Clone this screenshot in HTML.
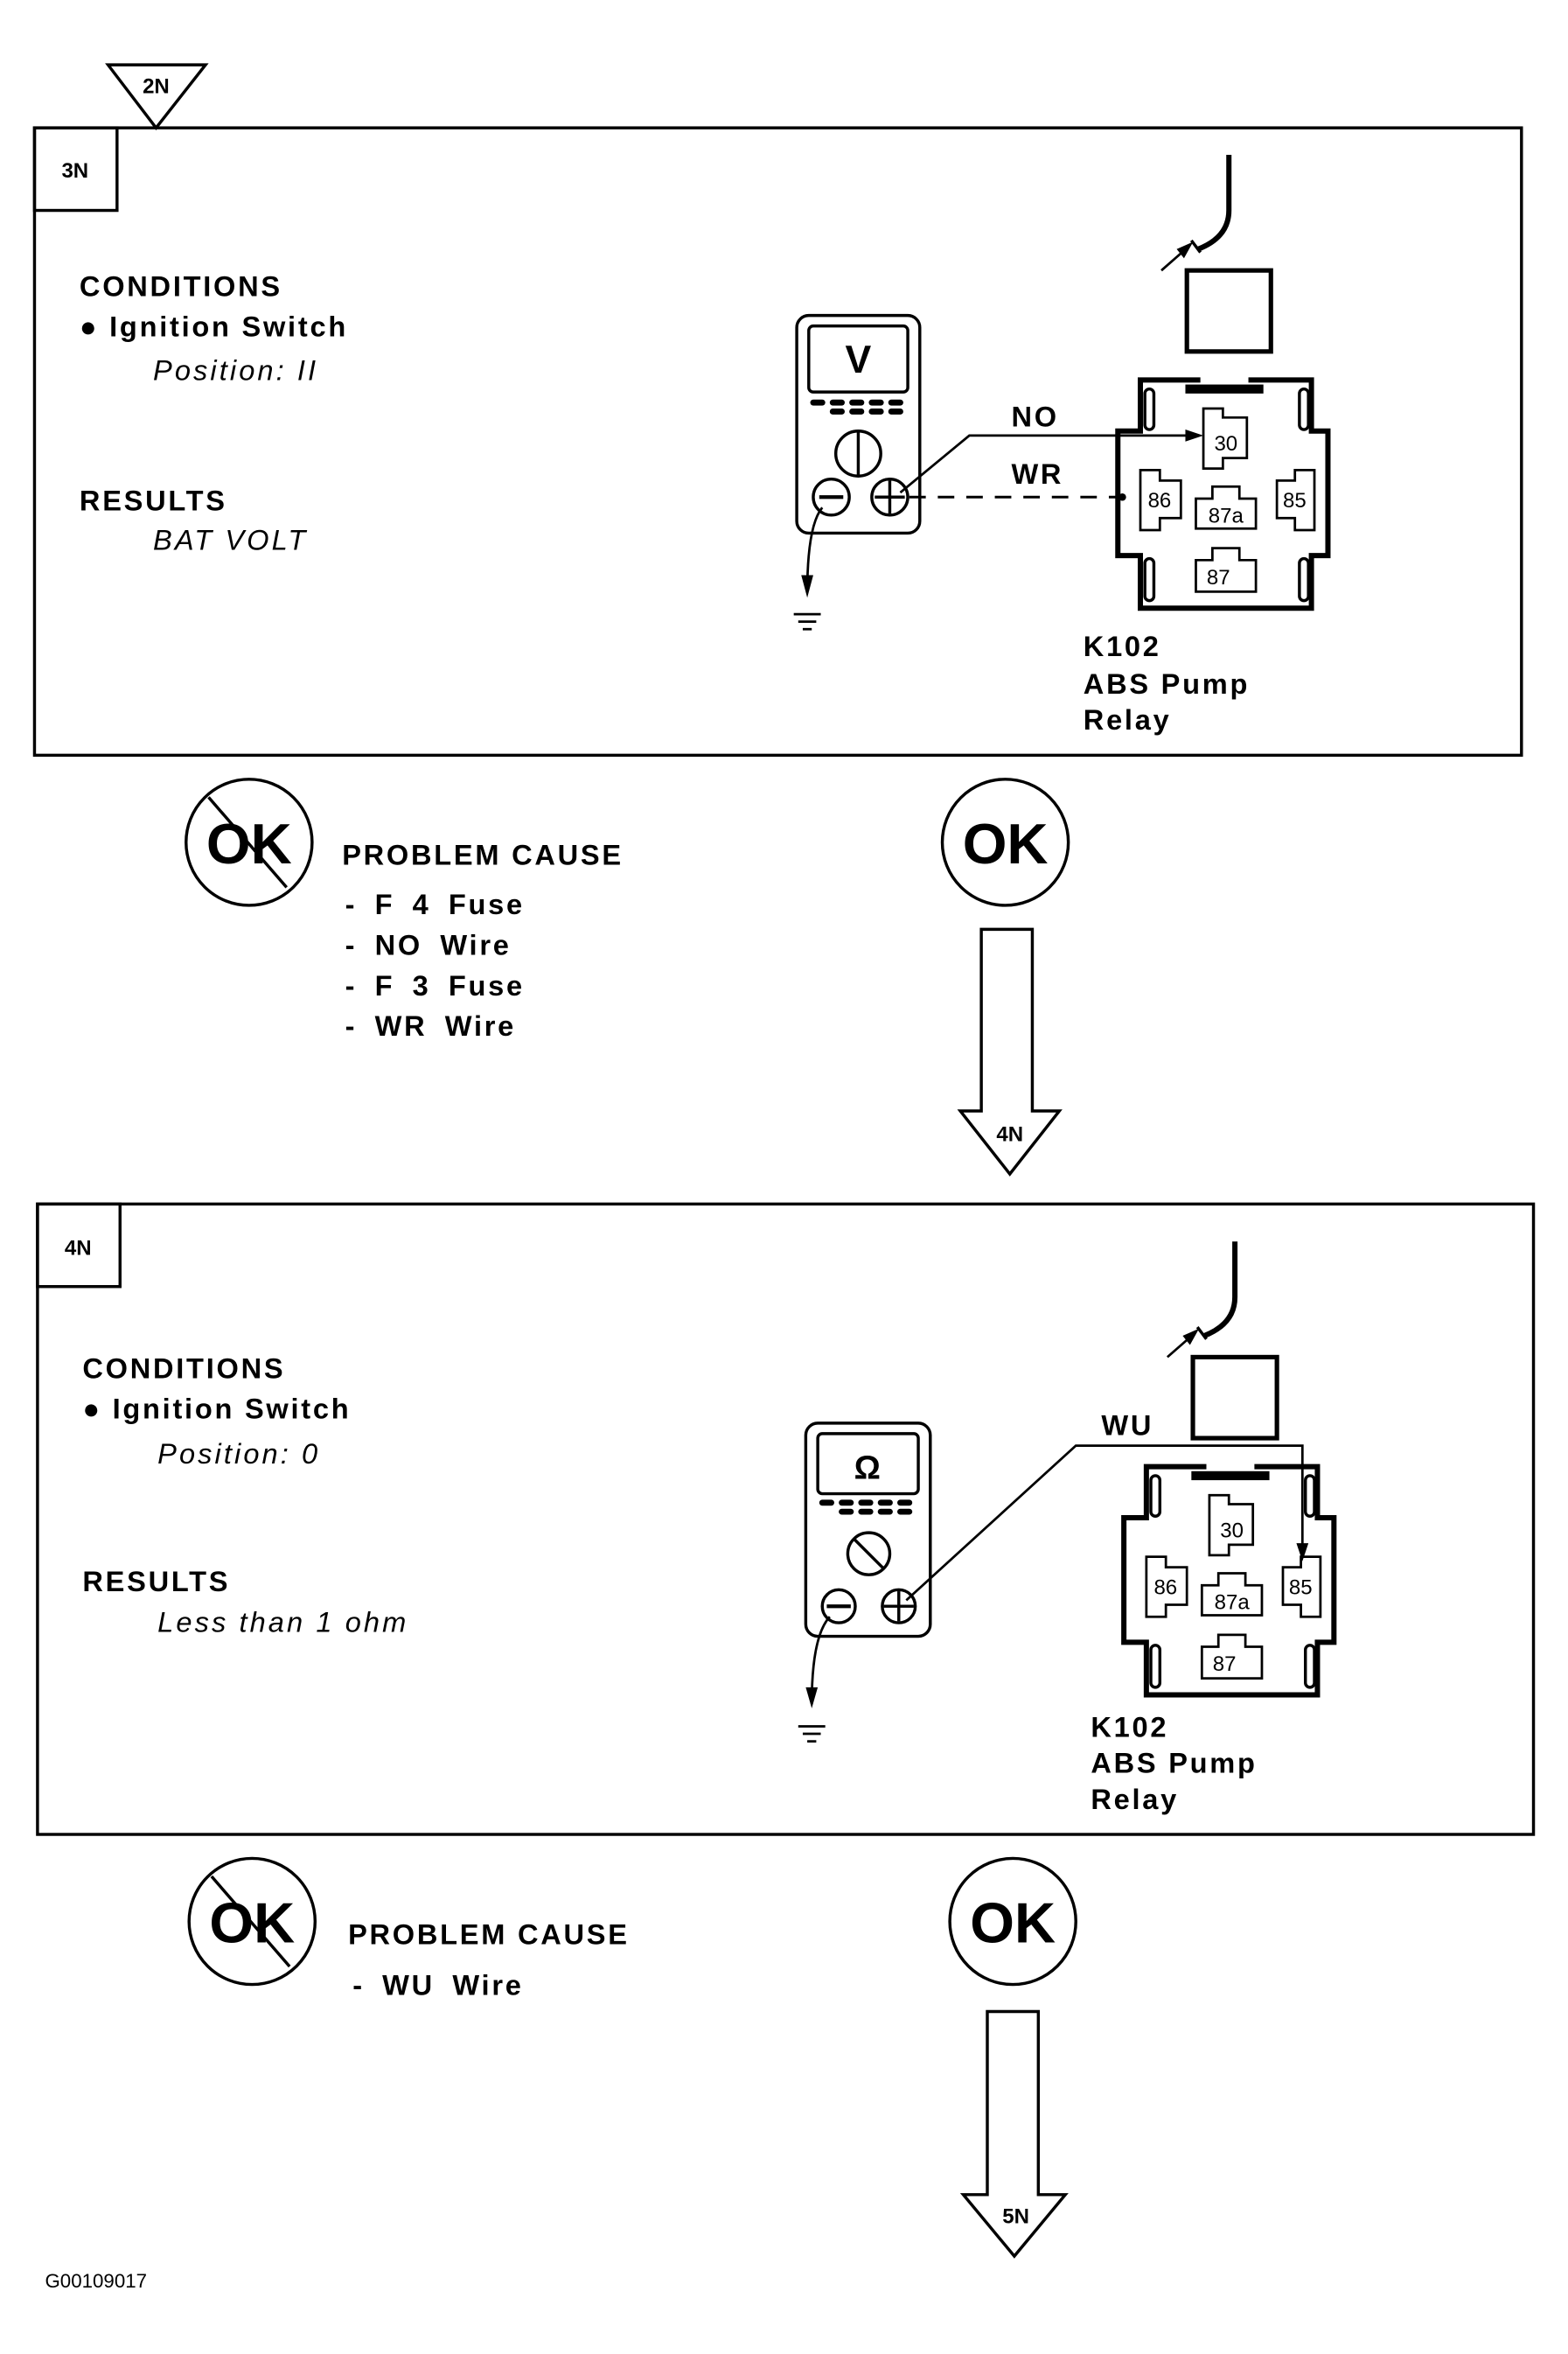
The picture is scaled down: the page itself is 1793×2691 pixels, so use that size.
<!DOCTYPE html>
<html><head><meta charset="utf-8"><style>
html,body{margin:0;padding:0;background:#fff}
svg{display:block}
text{font-family:"Liberation Sans",Arial,sans-serif;fill:#000}
.b{font-weight:bold;font-size:19px;letter-spacing:1.6px}
.i{font-style:italic;font-size:19px;letter-spacing:1.8px}
.l{word-spacing:5px}
.p{font-size:14px}
</style></head><body>
<svg width="1793" height="2691" viewBox="0 0 1045 1568" xmlns="http://www.w3.org/2000/svg">
<defs>
<g id="relay" fill="none" stroke="#000">
  <path d="M760,253 H874 V287 H885 V370 H874 V405 H760 V370 H745 V287 H760 Z" stroke-width="3.5"/>
  <rect x="763" y="259" width="6" height="27" rx="3" stroke-width="2"/>
  <rect x="866" y="259" width="6" height="27" rx="3" stroke-width="2"/>
  <rect x="763" y="372" width="6" height="28" rx="3" stroke-width="2"/>
  <rect x="866" y="372" width="6" height="28" rx="3" stroke-width="2"/>
  <rect x="790" y="256" width="52" height="6" fill="#000" stroke="none"/>
  <line x1="800" y1="253" x2="832" y2="253" stroke="#fff" stroke-width="4"/>
  <path d="M802,272 H815 V278 H831 V305 H815 V312 H802 Z" stroke-width="1.6"/>
  <path d="M760,313 H773 V320 H787 V345 H773 V353 H760 Z" stroke-width="1.6"/>
  <path d="M876,313 H863 V320 H851 V345 H863 V353 H876 Z" stroke-width="1.6"/>
  <path d="M808,324 H826 V332 H837 V352 H797 V332 H808 Z" stroke-width="1.6"/>
  <path d="M808,365 H826 V373 H837 V394 H797 V373 H808 Z" stroke-width="1.6"/>
  <rect x="791" y="180" width="56" height="54" stroke-width="3"/>
  <path d="M819,103 V140 Q819,158 798,166" stroke-width="3.5"/>
  <path d="M794,160 L800,168" stroke-width="2"/>
  <line x1="774" y1="180" x2="790" y2="166" stroke-width="1.6"/>
  <path d="M794,162 L785,166 L789,171 Z" fill="#000" stroke-width="1"/>
</g>
<g id="relaytext">
  <text x="817" y="300" class="p" text-anchor="middle">30</text>
  <text x="765" y="338" class="p">86</text>
  <text x="855" y="338" class="p">85</text>
  <text x="817" y="348" class="p" text-anchor="middle">87a</text>
  <text x="812" y="389" class="p" text-anchor="middle">87</text>
</g>
<g id="nok">
  <circle cx="0" cy="0" r="42" fill="none" stroke="#000" stroke-width="2"/>
  <text x="0" y="14" text-anchor="middle" style="font-weight:bold;font-size:38px">OK</text>
  <line x1="-27" y1="-30" x2="25" y2="30" stroke="#000" stroke-width="2"/>
</g>
<g id="ok">
  <circle cx="0" cy="0" r="42" fill="none" stroke="#000" stroke-width="2"/>
  <text x="0" y="14" text-anchor="middle" style="font-weight:bold;font-size:38px">OK</text>
</g>
<g id="ground" stroke="#000" stroke-width="1.6">
  <line x1="-9" y1="0" x2="9" y2="0"/><line x1="-6" y1="5" x2="6" y2="5"/><line x1="-3" y1="10" x2="3" y2="10"/>
</g>
</defs>

<path d="M72,43 H137 L104,85 Z" fill="#fff" stroke="#000" stroke-width="2"/>
<text x="104" y="62" class="p" text-anchor="middle" style="font-weight:bold">2N</text>

<rect x="23" y="85" width="991" height="418" fill="none" stroke="#000" stroke-width="2"/>
<rect x="23" y="85" width="55" height="55" fill="none" stroke="#000" stroke-width="2"/>
<text x="50" y="118" class="p" text-anchor="middle" style="font-weight:bold">3N</text>
<text x="53" y="197" class="b">CONDITIONS</text>
<text x="53" y="224" class="b">● Ignition Switch</text>
<text x="102" y="253" class="i">Position: II</text>
<text x="53" y="340" class="b">RESULTS</text>
<text x="102" y="366" class="i">BAT VOLT</text>

<rect x="531" y="210" width="82" height="145" rx="8" fill="none" stroke="#000" stroke-width="2"/>
<rect x="539" y="217" width="66" height="44" rx="3" fill="none" stroke="#000" stroke-width="2"/>
<text x="572" y="248" text-anchor="middle" style="font-weight:bold;font-size:26px">V</text>
<g fill="#000"><rect x="540" y="266" width="10" height="4" rx="2"/><rect x="553" y="266" width="10" height="4" rx="2"/><rect x="566" y="266" width="10" height="4" rx="2"/><rect x="579" y="266" width="10" height="4" rx="2"/><rect x="592" y="266" width="10" height="4" rx="2"/>
<rect x="553" y="272" width="10" height="4" rx="2"/><rect x="566" y="272" width="10" height="4" rx="2"/><rect x="579" y="272" width="10" height="4" rx="2"/><rect x="592" y="272" width="10" height="4" rx="2"/></g>
<circle cx="572" cy="302" r="15" fill="none" stroke="#000" stroke-width="2"/>
<line x1="572" y1="288" x2="572" y2="316" stroke="#000" stroke-width="2"/>
<circle cx="554" cy="331" r="12" fill="none" stroke="#000" stroke-width="2"/>
<line x1="546" y1="331" x2="562" y2="331" stroke="#000" stroke-width="2.5"/>
<circle cx="593" cy="331" r="12" fill="none" stroke="#000" stroke-width="2"/>
<line x1="583" y1="331" x2="603" y2="331" stroke="#000" stroke-width="2"/><line x1="593" y1="320" x2="593" y2="342" stroke="#000" stroke-width="2"/>
<path d="M548,338 Q538,350 538,395" fill="none" stroke="#000" stroke-width="1.6"/>
<path d="M534,383 L538,398 L542,383 Z" fill="#000"/>
<use href="#ground" x="538" y="409"/>
<path d="M600,328 L646,290 H792" fill="none" stroke="#000" stroke-width="1.6"/>
<path d="M790,286 L802,290 L790,294 Z" fill="#000"/>
<line x1="606" y1="331" x2="748" y2="331" stroke="#000" stroke-width="1.8" stroke-dasharray="11,8"/>
<circle cx="748" cy="331" r="2.5" fill="#000"/>
<text x="674" y="284" class="b">NO</text>
<text x="674" y="322" class="b">WR</text>
<use href="#relay"/>
<use href="#relaytext"/>
<text x="722" y="437" class="b">K102</text>
<text x="722" y="462" class="b">ABS Pump</text>
<text x="722" y="486" class="b">Relay</text>

<use href="#nok" x="166" y="561"/>
<use href="#ok" x="670" y="561"/>
<text x="228" y="576" class="b">PROBLEM CAUSE</text>
<text x="230" y="609" class="b l">-  F 4  Fuse</text>
<text x="230" y="636" class="b l">-  NO Wire</text>
<text x="230" y="663" class="b l">-  F 3  Fuse</text>
<text x="230" y="690" class="b l">-  WR Wire</text>
<path d="M654,619 H688 V740 H706 L673,782 L640,740 H654 Z" fill="#fff" stroke="#000" stroke-width="2"/>
<text x="673" y="760" class="p" text-anchor="middle" style="font-weight:bold">4N</text>

<rect x="25" y="802" width="997" height="420" fill="none" stroke="#000" stroke-width="2"/>
<rect x="25" y="802" width="55" height="55" fill="none" stroke="#000" stroke-width="2"/>
<text x="52" y="836" class="p" text-anchor="middle" style="font-weight:bold">4N</text>
<text x="55" y="918" class="b">CONDITIONS</text>
<text x="55" y="945" class="b">● Ignition Switch</text>
<text x="105" y="975" class="i">Position: 0</text>
<text x="55" y="1060" class="b">RESULTS</text>
<text x="105" y="1087" class="i">Less than 1 ohm</text>

<rect x="537" y="948" width="83" height="142" rx="8" fill="none" stroke="#000" stroke-width="2"/>
<rect x="545" y="955" width="67" height="40" rx="3" fill="none" stroke="#000" stroke-width="2"/>
<text x="578" y="985" text-anchor="middle" style="font-weight:bold;font-size:22px">Ω</text>
<g fill="#000"><rect x="546" y="999" width="10" height="4" rx="2"/><rect x="559" y="999" width="10" height="4" rx="2"/><rect x="572" y="999" width="10" height="4" rx="2"/><rect x="585" y="999" width="10" height="4" rx="2"/><rect x="598" y="999" width="10" height="4" rx="2"/>
<rect x="559" y="1005" width="10" height="4" rx="2"/><rect x="572" y="1005" width="10" height="4" rx="2"/><rect x="585" y="1005" width="10" height="4" rx="2"/><rect x="598" y="1005" width="10" height="4" rx="2"/></g>
<circle cx="579" cy="1035" r="14" fill="none" stroke="#000" stroke-width="2"/>
<line x1="569" y1="1025" x2="589" y2="1045" stroke="#000" stroke-width="2"/>
<circle cx="559" cy="1070" r="11" fill="none" stroke="#000" stroke-width="2"/>
<line x1="551" y1="1070" x2="567" y2="1070" stroke="#000" stroke-width="2.5"/>
<circle cx="599" cy="1070" r="11" fill="none" stroke="#000" stroke-width="2"/>
<line x1="589" y1="1070" x2="609" y2="1070" stroke="#000" stroke-width="2"/><line x1="599" y1="1060" x2="599" y2="1080" stroke="#000" stroke-width="2"/>
<path d="M553,1077 Q541,1090 541,1135" fill="none" stroke="#000" stroke-width="1.6"/>
<path d="M537,1124 L541,1138 L545,1124 Z" fill="#000"/>
<use href="#ground" x="541" y="1150"/>
<path d="M604,1066 L717,963 H868 V1030" fill="none" stroke="#000" stroke-width="1.6"/>
<path d="M864,1028 L868,1040 L872,1028 Z" fill="#000"/>
<text x="734" y="956" class="b">WU</text>
<g transform="translate(4,724)"><use href="#relay"/><use href="#relaytext"/></g>
<text x="727" y="1157" class="b">K102</text>
<text x="727" y="1181" class="b">ABS Pump</text>
<text x="727" y="1205" class="b">Relay</text>

<use href="#nok" x="168" y="1280"/>
<use href="#ok" x="675" y="1280"/>
<text x="232" y="1295" class="b">PROBLEM CAUSE</text>
<text x="235" y="1329" class="b l">-  WU  Wire</text>
<path d="M658,1340 H692 V1462 H710 L676,1503 L642,1462 H658 Z" fill="#fff" stroke="#000" stroke-width="2"/>
<text x="677" y="1481" class="p" text-anchor="middle" style="font-weight:bold">5N</text>

<text x="30" y="1524" style="font-size:13px">G00109017</text>
</svg>
</body></html>
